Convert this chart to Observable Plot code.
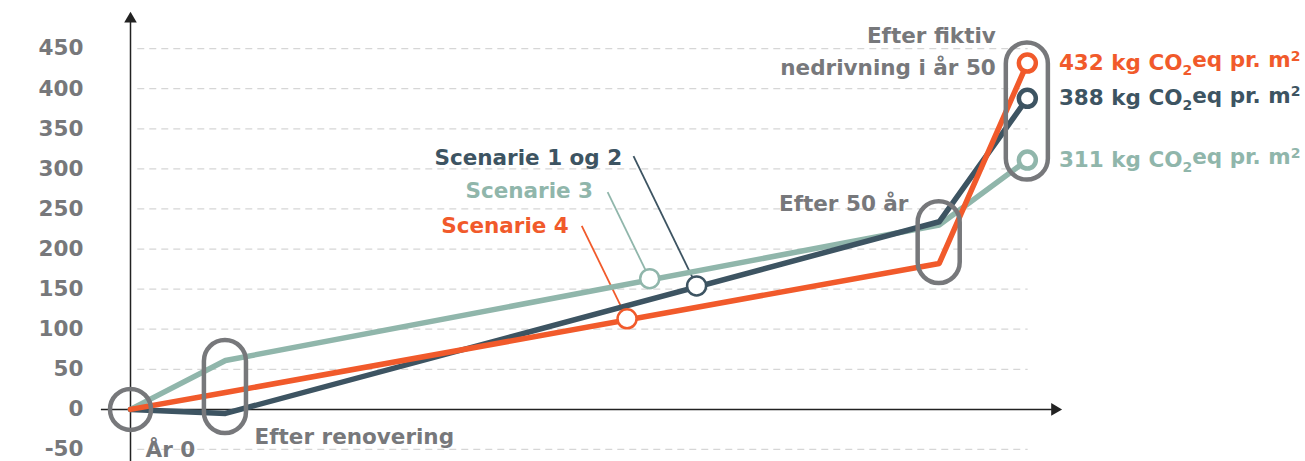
<!DOCTYPE html>
<html><head><meta charset="utf-8">
<script src="https://cdn.jsdelivr.net/npm/d3@7"></script>
<script src="https://cdn.jsdelivr.net/npm/@observablehq/plot@0.6"></script>
<style>body{margin:0;background:#fff} svg{display:block}</style>
</head><body><div id="chart"></div>
<script>
// ---- data ----
const stages = ["År 0", "Efter renovering", "Efter 50 år", "Efter fiktiv nedrivning i år 50"];
const stageYear = [0, 5.87, 50, 55.45];
const scen12 = [0, -5, 234, 388];
const scen3 = [0, 61, 230, 311];
const scen4 = [0, 21, 182, 432];
const seriesNames = ["Scenarie 1 og 2", "Scenarie 3", "Scenarie 4"];
const markerYear = [35, 32.1, 30.7];
const markerValue = [154, 163, 113];
const endLabels = ["388 kg CO2eq pr. m2", "311 kg CO2eq pr. m2", "432 kg CO2eq pr. m2"];
const yTicks = [-50, 0, 50, 100, 150, 200, 250, 300, 350, 400, 450];

// ---- styles ----
const C12 = "#3d5462", C3 = "#90b6ab", C4 = "#f15a2b", GRAY = "#77787b";
const colors = [C12, C3, C4];
const seriesVals = [scen12, scen3, scen4];
const FS = 21.5;

const rows = seriesVals.map((vals, i) => vals.map((v, j) => ({year: stageYear[j], value: v, s: i})));

// scenario label placements (data coordinates)
const labelPos = [
  {x: 30.4, y: 313, lx: 31.1, ly: 316},
  {x: 28.6, y: 272, lx: 29.5, ly: 271},
  {x: 27.1, y: 229, lx: 27.9, ly: 229}
];
const scenLabels = seriesNames.map((n, i) => ({name: n, ...labelPos[i], mx: markerYear[i], my: markerValue[i], c: colors[i]}));

// pills around the stages
const pillPad = 25, pillHalfW = 1.3;
const pills = [1, 2, 3].map(j => {
  const vs = seriesVals.map(s => s[j]);
  return {x1: stageYear[j] - pillHalfW, x2: stageYear[j] + pillHalfW, y1: d3.min(vs) - pillPad, y2: d3.max(vs) + pillPad};
});

const endPts = seriesVals.map((s, i) => ({x: stageYear[3], y: s[3], c: colors[i], label: endLabels[i]}));

const font = "DejaVu Sans";
const chart = Plot.plot({
  width: 1305, height: 461,
  marginLeft: 130, marginRight: 245, marginTop: 0, marginBottom: 0,
  x: {domain: [0, 57.5], axis: null},
  y: {domain: [-65, 510]},
  style: {fontFamily: font, fontWeight: "bold", background: "#fff"},
  marks: [
    Plot.ruleY(yTicks.filter(d => d !== 0), {x1: 0.45, x2: 55.5, stroke: "#d6d6d6", strokeDasharray: "7,5", strokeWidth: 1.3}),
    Plot.axisY(yTicks, {tickSize: 0, tickPadding: 47, fontSize: FS, fill: GRAY, fontWeight: "bold", tickFormat: d => String(d)}),
    Plot.ruleY([0], {x1: -1.8, x2: 57.0, stroke: "#222", strokeWidth: 1.5}),
    Plot.ruleX([0], {y1: -70, y2: 486, stroke: "#222", strokeWidth: 1.5}),
    Plot.dot([{x: 57.15, y: 0}], {x: "x", y: "y", symbol: "triangle2", r: 6, fill: "#222", rotate: 90}),
    Plot.dot([{x: 0, y: 487}], {x: "x", y: "y", symbol: "triangle2", r: 6, fill: "#222"}),
    // leader lines
    Plot.link(scenLabels, {x1: "lx", y1: "ly", x2: "mx", y2: "my", stroke: d => d.c, strokeWidth: 1.8}),
    // lines
    Plot.line(rows[1], {x: "year", y: "value", stroke: C3, strokeWidth: 5.5}),
    Plot.line(rows[0], {x: "year", y: "value", stroke: C12, strokeWidth: 5.5}),
    Plot.line(rows[2], {x: "year", y: "value", stroke: C4, strokeWidth: 5.5}),
    // pills
    Plot.rect(pills, {x1: "x1", x2: "x2", y1: "y1", y2: "y2", rx: 21, stroke: GRAY, strokeWidth: 4.5, fill: "none"}),
    Plot.dot([{x: 0, y: 0}], {x: "x", y: "y", r: 20.5, stroke: GRAY, strokeWidth: 4.5, fill: "none"}),
    // markers
    Plot.dot(scenLabels, {x: "mx", y: "my", r: 9.5, stroke: d => d.c, strokeWidth: 2.5, fill: "#fff"}),
    Plot.dot(endPts, {x: "x", y: "y", r: 8.5, stroke: d => d.c, strokeWidth: 4.5, fill: "#fff"}),
    // texts
    Plot.text(scenLabels, {x: "x", y: "y", text: "name", fill: d => d.c, textAnchor: "end", fontSize: FS, fontWeight: "bold"}),
    Plot.text(endPts, {x: 57.4, y: "y", text: "label", fill: d => d.c, textAnchor: "start", fontSize: FS, fontWeight: "bold", className: "vallabel"}),
    Plot.text([stages[0]], {x: 0.93, y: -51, text: d => d, textAnchor: "start", fill: GRAY, fontSize: FS, fontWeight: "bold"}),
    Plot.text([stages[1]], {x: 7.67, y: -35, text: d => d, textAnchor: "start", fill: GRAY, fontSize: FS, fontWeight: "bold"}),
    Plot.text([stages[2]], {x: 48.1, y: 256, text: d => d, textAnchor: "end", fill: GRAY, fontSize: FS, fontWeight: "bold"}),
    Plot.text(["Efter fiktiv\nnedrivning i år 50"], {x: 53.5, y: 450, text: d => d, textAnchor: "end", fill: GRAY, fontSize: FS, fontWeight: "bold", lineHeight: 1.5})
  ]
});
document.getElementById("chart").appendChild(chart);

// subscript / superscript formatting for value labels
chart.querySelectorAll(".vallabel text").forEach(t => {
  const s = t.textContent; // e.g. "432 kg CO2eq pr. m2"
  const m = s.match(/^(.*CO)2(eq pr\. m)2$/);
  if (!m) return;
  t.textContent = "";
  const add = (txt, opts = {}) => {
    const ts = document.createElementNS("http://www.w3.org/2000/svg", "tspan");
    ts.textContent = txt;
    if (opts.dy) ts.setAttribute("dy", opts.dy);
    if (opts.size) ts.setAttribute("font-size", opts.size);
    t.appendChild(ts);
  };
  add(m[1]);
  add("2", {dy: "0.35em", size: 14});
  add(m[2], {dy: "-0.35em"});
  add("2", {dy: "-0.45em", size: 14});
});
</script></body></html>
